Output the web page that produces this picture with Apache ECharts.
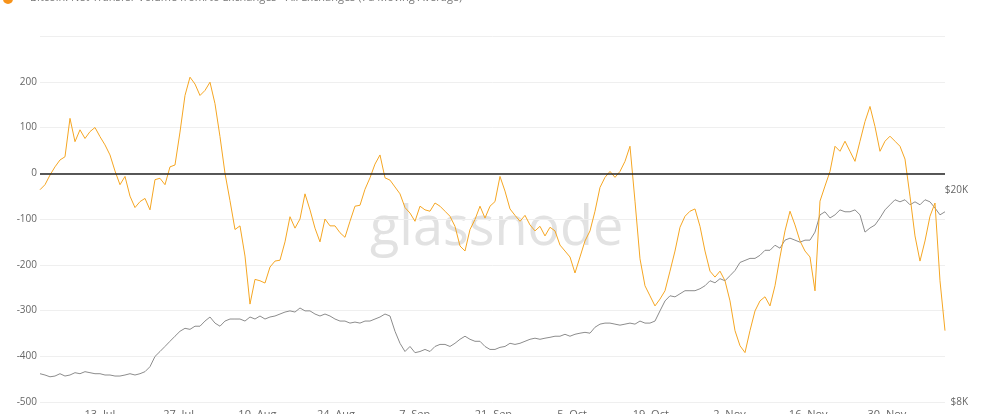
<!DOCTYPE html>
<html><head><meta charset="utf-8">
<script src="https://cdn.jsdelivr.net/npm/echarts@6/dist/echarts.min.js"></script>
<style>html,body{margin:0;padding:0;background:#fff}#c{width:1000px;height:414px}</style>
</head><body><div id="c"></div>
<script>
// Sampling: first value 2020-07-02 08:00 UTC, one value every ~21.35 h
const startTime = Date.UTC(2020, 6, 2, 8);
const stepMs = 0.8895 * 86400000;

// Net transfer volume (BTC thousands, 7d MA)
const netFlow = [-36,-25,-4,14,29,36,120,69,95,76,91,100,80,62,40,5,-25,-7,-50,-75,-62,-55,-80,-14,-11,-25,14,18,90,170,210,195,170,181,199,152,80,0,-60,-123,-115,-181,-286,-232,-235,-240,-205,-192,-190,-150,-95,-120,-100,-45,-80,-120,-150,-100,-115,-115,-130,-140,-105,-72,-70,-35,-10,20,40,-10,-15,-30,-45,-75,-87,-105,-72,-80,-83,-65,-72,-83,-94,-116,-159,-170,-123,-101,-72,-98,-72,-62,-7,-39,-78,-92,-105,-92,-113,-126,-116,-137,-118,-126,-157,-170,-183,-218,-183,-148,-126,-83,-31,-9,4,-9,4,26,59,-61,-187,-246,-268,-290,-275,-257,-214,-170,-118,-94,-83,-78,-116,-170,-214,-227,-214,-235,-279,-344,-377,-392,-344,-301,-279,-270,-290,-246,-183,-126,-83,-113,-148,-170,-183,-257,-61,-28,4,59,48,70,48,26,70,113,146,102,48,70,81,70,59,31,-50,-137,-192,-148,-94,-65,-235,-344];

// BTC price (USD)
const btcPrice = [9040,8990,8920,8950,9040,8950,8990,9080,9040,9120,9080,9040,9040,8990,8990,8950,8950,8990,9040,8990,9040,9120,9320,9740,9950,10170,10400,10630,10860,11000,10950,11100,11100,11350,11550,11250,11100,11350,11450,11450,11450,11350,11550,11450,11600,11450,11550,11600,11700,11800,11860,11800,12010,11860,11860,11700,11600,11700,11600,11450,11350,11350,11250,11300,11250,11350,11350,11450,11550,11700,11600,10860,10310,9950,10170,9900,9950,10040,9950,10170,10260,10260,10170,10310,10490,10630,10490,10400,10400,10170,10040,10040,10130,10170,10310,10260,10310,10400,10490,10540,10490,10540,10580,10630,10630,10720,10630,10720,10770,10810,10770,11050,11200,11250,11250,11200,11150,11200,11250,11200,11350,11250,11250,11350,11860,12380,12660,12600,12770,12940,12940,12940,13050,13220,13510,13390,13630,13510,13810,14120,14620,14750,14880,14880,15080,15410,15410,15750,15550,16100,16240,16100,15960,16100,16100,16670,17960,18200,17720,17960,18350,18200,18200,18350,17960,16670,16970,17190,17720,18350,18760,19170,19000,19170,18760,19000,18760,19170,19000,18500,17960,18200];

const leftTicks = [-500,-400,-300,-200,-100,0,100,200];
const rightTicks = [8000, 20000];
const dateTicks = [Date.UTC(2020,6,13),Date.UTC(2020,6,27),Date.UTC(2020,7,10),Date.UTC(2020,7,24),Date.UTC(2020,8,7),Date.UTC(2020,8,21),Date.UTC(2020,9,5),Date.UTC(2020,9,19),Date.UTC(2020,10,2),Date.UTC(2020,10,16),Date.UTC(2020,10,30)];
const months = ['Jan','Feb','Mar','Apr','May','Jun','Jul','Aug','Sep','Oct','Nov','Dec'];

const netData = netFlow.map((v, i) => [startTime + i * stepMs, v]);
const priceData = btcPrice.map((v, i) => [startTime + i * stepMs, v]);

const chart = echarts.init(document.getElementById('c'));
chart.setOption({
  animation: false,
  grid: { left: 40, right: 55, top: 36, bottom: 12, outerBoundsMode: 'none', containLabel: false },
  graphic: [
    { type: 'circle', shape: { cx: 8, cy: -1, r: 5 }, style: { fill: '#f7931a' } },
    { type: 'text', left: 30, top: -8, style: { text: 'Bitcoin: Net Transfer Volume from/to Exchanges - All Exchanges (7d Moving Average)', fill: '#777', font: '11px "Open Sans", sans-serif' } },
    { type: 'text', left: 370, top: 203, z: 0, style: { text: 'glassnode', fill: '#e2e2e2', font: '54px "Open Sans", sans-serif' } }
  ],
  xAxis: {
    type: 'value',
    min: startTime,
    max: Date.UTC(2020, 11, 10, 8),
    axisLine: { show: false },
    axisTick: { show: false },
    splitLine: { show: false },
    axisLabel: {
      customValues: dateTicks,
      margin: 7,
      color: '#666',
      fontSize: 11,
      fontFamily: '"Open Sans", sans-serif',
      formatter: v => { const d = new Date(v); return d.getUTCDate() + '. ' + months[d.getUTCMonth()]; }
    }
  },
  yAxis: [
    {
      type: 'value', min: -500, max: 300, interval: 100, position: 'left',
      axisLine: { show: false }, axisTick: { show: false },
      splitLine: { lineStyle: { color: '#efefef', width: 1 } },
      axisLabel: { customValues: leftTicks, margin: 3, color: '#666', fontSize: 10, fontFamily: '"Open Sans", sans-serif', verticalAlign: 'middle', padding: [0, 0, 6, 0] }
    },
    {
      type: 'log', min: 8000, max: 38900, position: 'right',
      axisLine: { show: false }, axisTick: { show: false }, splitLine: { show: false },
      axisLabel: { customValues: rightTicks, margin: 23, align: 'right', color: '#666', fontSize: 10, fontFamily: '"Open Sans", sans-serif', verticalAlign: 'middle', padding: [0, 0, 2, 0],
        formatter: v => '$' + Math.round(v / 1000) + 'K' }
    }
  ],
  series: [
    {
      name: 'Price', type: 'line', yAxisIndex: 1, data: priceData, showSymbol: false,
      lineStyle: { color: '#8c8c8c', width: 1 }, z: 2
    },
    {
      name: 'Net Transfer Volume', type: 'line', yAxisIndex: 0, data: netData, showSymbol: false,
      lineStyle: { color: '#f5a623', width: 1 }, z: 3,
      markLine: { silent: true, symbol: 'none', label: { show: false },
        lineStyle: { color: '#222', width: 1.5, type: 'solid' }, data: [{ yAxis: 0 }] }
    }
  ]
});
</script></body></html>
